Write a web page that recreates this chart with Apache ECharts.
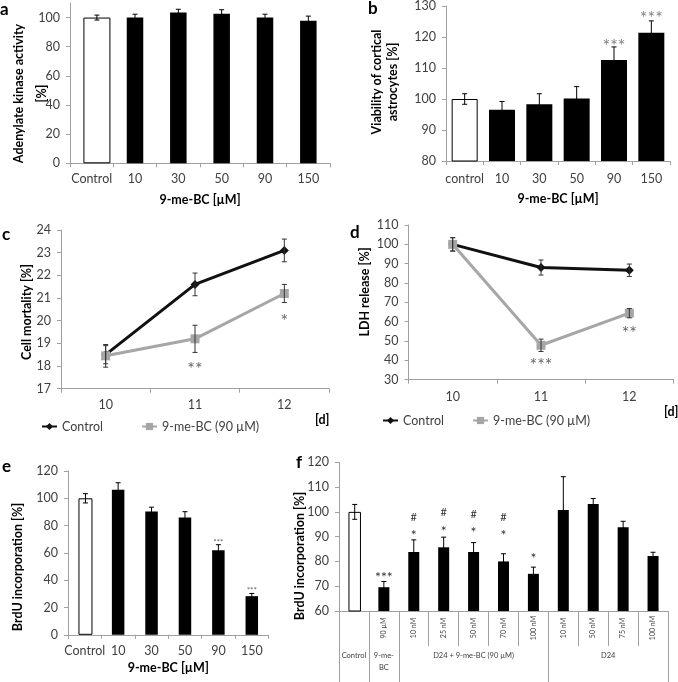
<!DOCTYPE html>
<html>
<head>
<meta charset="utf-8">
<script src="https://cdn.jsdelivr.net/npm/echarts@6/dist/echarts.min.js"></script>
<style>
    html, body { margin: 0; padding: 0; background: #fff; }
    #main { width: 678px; height: 682px; }
</style>
</head>
<body>
<div id="main"></div>
<script>
// ---- data ----
var doseCats = ['Control', '10', '30', '50', '90', '150'];
var doseCatsLower = ['control', '10', '30', '50', '90', '150'];

// a: adenylate kinase activity
var akMean = [100, 100, 103.4, 102.7, 100, 97.8];
var akErr = [1.7, 2.3, 2.3, 2.7, 2.3, 3.2];

// b: viability of cortical astrocytes
var viabMean = [100, 96.5, 98.3, 100.2, 112.6, 121.4];
var viabErr = [1.7, 2.7, 3.4, 3.8, 4.2, 3.8];
var viabSig = ['', '', '', '', '***', '***'];
var viabSigAt = [null, null, null, null, 118.8, 127.8];

// c: cell mortality
var days = ['10', '11', '12'];
var mortCtrl = [18.5, 21.6, 23.1];
var mortCtrlErr = [0.4, 0.5, 0.5];
var mortBC = [18.45, 19.2, 21.2];
var mortBCErr = [0.5, 0.6, 0.4];
var mortSig = ['', '**', '*'];
var mortSigAt = [null, 18.1, 20.2];

// d: LDH release
var ldhCtrl = [100, 88, 86.6];
var ldhCtrlErr = [3.5, 3.9, 3.2];
var ldhBC = [100, 47.8, 64.4];
var ldhBCErr = [3.4, 3.2, 2.4];
var ldhSig = ['', '***', '**'];
var ldhSigAt = [null, 40.2, 56.7];

// e: BrdU incorporation vs dose
var brduMean = [100, 106.3, 90.3, 85.9, 61.9, 28.3];
var brduErr = [3.4, 5.1, 3.2, 4.3, 4.1, 2];
var brduSig = ['', '', '', '', '***', '***'];
var brduSigAt = [null, null, null, null, 69.5, 34.4];

// f: BrdU incorporation, D24 combinations
var d24Cats = ['', '90 µM', '10 nM', '25 nM', '50 nM', '70 nM', '100 nM', '10 nM', '50 nM', '75 nM', '100 nM'];
var d24Mean = [100, 69.6, 83.8, 85.7, 83.8, 80, 75, 100.8, 103.2, 93.8, 82.2];
var d24Err = [3, 2.3, 4.9, 4.1, 3.8, 3.1, 2.7, 13.4, 2.2, 2.4, 1.5];
var d24Sig = ['', '***', '#\n*', '#\n*', '#\n*', '#\n*', '*', '', '', '', ''];
var d24SigAt = [null, 75.2, 92, 93.8, 93.3, 92, 82.6, null, null, null, null];
var d24Groups = ['Control', '9-me-\nBC', 'D24 + 9-me-BC (90 µM)', 'D24'];
var d24GroupEdges = [0, 1, 2, 7, 11];

var seriesNames = ['Control', '9-me-BC (90 µM)'];
var yTitles = ['Adenylate kinase activity\n[%]', 'Viability of cortical\nastrocytes [%]',
    'Cell mortality [%]', 'LDH release [%]', 'BrdU incorporation [%]', 'BrdU incorporation [%]'];

// ---- styling ----
var FONT = 'Lato';
var AXIS_GREY = '#a0a0a0';
var TEXT_GREY = '#404040';
var LINE_GREY = '#a6a6a6';

function catAxis(gi, data, margin, name, nameGap) {
    return {
        type: 'category',
        gridIndex: gi,
        data: data,
        name: name || '',
        nameLocation: 'middle',
        nameGap: nameGap || 0,
        nameMoveOverlap: false,
        nameTextStyle: { color: '#000', fontFamily: FONT, fontWeight: 'bold', fontSize: 12.5 },
        axisLine: { show: true, lineStyle: { color: AXIS_GREY, width: 1 } },
        axisTick: { show: true, length: 4, lineStyle: { color: AXIS_GREY } },
        axisLabel: { color: TEXT_GREY, fontFamily: FONT, fontSize: 12.5, margin: margin, interval: 0 },
        splitLine: { show: false }
    };
}

function valAxis(gi, min, max, step) {
    return {
        type: 'value',
        gridIndex: gi,
        min: min,
        max: max,
        interval: step,
        axisLine: { show: true, lineStyle: { color: AXIS_GREY, width: 1 } },
        axisTick: { show: true, length: 4, lineStyle: { color: AXIS_GREY } },
        axisLabel: { color: TEXT_GREY, fontFamily: FONT, fontSize: 12.5, margin: 10, showMaxLabel: max % step === 0 },
        splitLine: { show: false }
    };
}

// rotated y-axis title, centred on (x, y)
function yTitle(text, x, y, lineHeight) {
    return {
        type: 'text', x: x, y: y, rotation: Math.PI / 2, silent: true,
        style: {
            text: text, align: 'center', verticalAlign: 'middle',
            font: 'bold 12.5px ' + FONT, fill: '#000', lineHeight: lineHeight || 15
        }
    };
}

// control bar (white, wider) + treated bars (black); barGap -100% lets them share the slot
function barPair(gi, means, wCtrl, wTreat) {
    return [{
        type: 'bar', xAxisIndex: gi, yAxisIndex: gi, silent: true,
        data: means.map(function(v, i) { return i === 0 ? v : '-'; }),
        barWidth: wCtrl, barGap: '-100%',
        itemStyle: { color: '#fff', borderColor: '#000', borderWidth: 1 }
    }, {
        type: 'bar', xAxisIndex: gi, yAxisIndex: gi, silent: true,
        data: means.map(function(v, i) { return i === 0 ? '-' : v; }),
        barWidth: wTreat, barGap: '-100%',
        itemStyle: { color: '#000' }
    }];
}

function errSeries(gi, means, errs, from, to, shift, color) {
    var data = [];
    for (var i = from; i < to; i++) {
        data.push([i, means[i], errs[i]]);
    }
    return {
        type: 'custom', xAxisIndex: gi, yAxisIndex: gi, silent: true, z: 4,
        data: data,
        encode: { x: 0, y: 1 },
        renderItem: function(params, api) {
            var idx = api.value(0), m = api.value(1), e = api.value(2);
            var hi = api.coord([idx, m + e]);
            var lo = api.coord([idx, m - e]);
            var x = hi[0] + shift;
            var st = { stroke: color, lineWidth: 1 };
            return {
                type: 'group',
                children: [
                    { type: 'line', shape: { x1: x, y1: hi[1], x2: x, y2: lo[1] }, style: st },
                    { type: 'line', shape: { x1: x - 2.5, y1: hi[1], x2: x + 2.5, y2: hi[1] }, style: st },
                    { type: 'line', shape: { x1: x - 2.5, y1: lo[1], x2: x + 2.5, y2: lo[1] }, style: st }
                ]
            };
        }
    };
}

// significance marks (* / #), stacked upwards line by line
function sigSeries(gi, texts, levels, color, size, lineGap, hashSize) {
    var data = [];
    levels.forEach(function(v, i) {
        if (v != null) data.push([i, v]);
    });
    return {
        type: 'custom', xAxisIndex: gi, yAxisIndex: gi, silent: true, z: 5,
        data: data,
        encode: { x: 0, y: 1 },
        renderItem: function(params, api) {
            var idx = api.value(0);
            var p = api.coord([idx, api.value(1)]);
            var lines = texts[idx].split('\n').reverse();
            return {
                type: 'group',
                children: lines.map(function(t, j) {
                    var star = t.charAt(0) === '*';
                    var fs = star ? size : (hashSize || size);
                    return {
                        type: 'text',
                        x: p[0],
                        y: p[1] - j * lineGap + (star ? fs * 0.28 : 0),
                        style: {
                            text: t, align: 'center', verticalAlign: 'middle',
                            fill: color, font: fs + 'px ' + FONT
                        }
                    };
                })
            };
        }
    };
}

function lineSeries(gi, name, data, black) {
    var c = black ? '#111' : LINE_GREY;
    return {
        type: 'line', name: name, xAxisIndex: gi, yAxisIndex: gi, data: data,
        symbol: black ? 'diamond' : 'rect',
        symbolSize: 9,
        lineStyle: { color: c, width: 3 },
        itemStyle: { color: c },
        z: 2
    };
}

function panelTitle(text, left, top, size) {
    return {
        text: text, left: left, top: top, padding: 0,
        textStyle: { fontFamily: FONT, fontWeight: 'bold', fontSize: size, color: '#000' }
    };
}

function legendAt(left, top, gap) {
    return {
        left: left, top: top, padding: 0, selectedMode: false,
        data: seriesNames,
        itemWidth: 15, itemHeight: 9, itemGap: gap,
        textStyle: { fontFamily: FONT, fontSize: 12.5, color: TEXT_GREY }
    };
}

var groupCenters = [];
for (var g = 0; g < d24GroupEdges.length - 1; g++) {
    groupCenters.push((d24GroupEdges[g] + d24GroupEdges[g + 1]) / 2);
}

function grid(left, top, width, height) {
    return { left: left, top: top, width: width, height: height, outerBoundsMode: 'none', containLabel: false };
}

var xAxes = [
    catAxis(0, doseCats, 9, '9-me-BC [µM]', 30),
    catAxis(1, doseCatsLower, 11, '9-me-BC [µM]', 31),
    catAxis(2, days, 10),
    catAxis(3, days, 11),
    catAxis(4, doseCats, 10, '9-me-BC [µM]', 27),
    {
        type: 'category', gridIndex: 5, data: d24Cats,
        axisLine: { show: true, lineStyle: { color: AXIS_GREY, width: 1 } },
        axisTick: { show: true, length: 35, lineStyle: { color: AXIS_GREY } },
        axisLabel: {
            color: TEXT_GREY, fontFamily: FONT, fontSize: 7, interval: 0,
            rotate: 90, align: 'center', verticalAlign: 'middle', margin: 17
        },
        splitLine: { show: false }
    },
    {
        type: 'value', gridIndex: 5, min: 0, max: 11, position: 'bottom', offset: 35,
        axisLine: { show: false },
        splitLine: { show: false },
        axisTick: { show: true, length: 36, customValues: d24GroupEdges, lineStyle: { color: AXIS_GREY } },
        axisLabel: {
            show: true, customValues: groupCenters, margin: 4,
            color: TEXT_GREY, fontFamily: FONT, fontSize: 7.5, lineHeight: 11.5,
            formatter: function(v) {
                var k = groupCenters.indexOf(v);
                return k >= 0 ? d24Groups[k] : '';
            }
        }
    }
];

var yAxes = [
    valAxis(0, 0, 110, 20),
    valAxis(1, 80, 130, 10),
    valAxis(2, 17, 24, 1),
    valAxis(3, 30, 110, 10),
    valAxis(4, 0, 120, 20),
    valAxis(5, 60, 120, 10)
];

var series = []
    // a
    .concat(barPair(0, akMean, 27, 16.5))
    .concat([errSeries(0, akMean, akErr, 0, 1, (27 - 16.5) / 2, '#000'),
             errSeries(0, akMean, akErr, 1, akMean.length, 0, '#000')])
    // b
    .concat(barPair(1, viabMean, 26, 26))
    .concat([errSeries(1, viabMean, viabErr, 0, viabMean.length, 0, '#000'),
             sigSeries(1, viabSig, viabSigAt, '#808080', 18, 14)])
    // c
    .concat([lineSeries(2, seriesNames[0], mortCtrl, true),
             lineSeries(2, seriesNames[1], mortBC, false),
             errSeries(2, mortCtrl, mortCtrlErr, 0, 3, 0, '#333'),
             errSeries(2, mortBC, mortBCErr, 0, 3, 0, '#333'),
             sigSeries(2, mortSig, mortSigAt, '#666', 18, 14)])
    // d
    .concat([lineSeries(3, seriesNames[0], ldhCtrl, true),
             lineSeries(3, seriesNames[1], ldhBC, false),
             errSeries(3, ldhCtrl, ldhCtrlErr, 0, 3, 0, '#333'),
             errSeries(3, ldhBC, ldhBCErr, 0, 3, 0, '#333'),
             sigSeries(3, ldhSig, ldhSigAt, '#666', 18, 14)])
    // e
    .concat(barPair(4, brduMean, 14, 12.5))
    .concat([errSeries(4, brduMean, brduErr, 0, 1, (14 - 12.5) / 2, '#000'),
             errSeries(4, brduMean, brduErr, 1, brduMean.length, 0, '#000'),
             sigSeries(4, brduSig, brduSigAt, '#666', 8, 7)])
    // f
    .concat(barPair(5, d24Mean, 12.5, 11))
    .concat([errSeries(5, d24Mean, d24Err, 0, 1, (12.5 - 11) / 2, '#000'),
             errSeries(5, d24Mean, d24Err, 1, d24Mean.length, 0, '#000'),
             sigSeries(5, d24Sig, d24SigAt, '#333', 14, 14.5, 11)]);

var myChart = echarts.init(document.getElementById('main'), null, { renderer: 'canvas' });
myChart.setOption({
    animation: false,
    backgroundColor: '#fff',
    title: [
        panelTitle('a', 0, 1, 17),
        panelTitle('b', 368, 0, 17),
        panelTitle('c', 2, 226, 17),
        panelTitle('d', 350, 224, 17),
        panelTitle('e', 2, 458, 17),
        panelTitle('f', 296, 454, 17),
        panelTitle('[d]', 315, 413, 12.5),
        panelTitle('[d]', 664, 405, 12.5)
    ],
    graphic: [
        yTitle(yTitles[0], 30.5, 93.5, 23),
        yTitle(yTitles[1], 385, 82, 16.5),
        yTitle(yTitles[2], 26.7, 312),
        yTitle(yTitles[3], 365, 292),
        yTitle(yTitles[4], 18, 567),
        yTitle(yTitles[5], 300, 556)
    ],
    legend: [legendAt(41, 420, 38), legendAt(382, 414, 28)],
    grid: [
        grid(70, 3, 260, 160.3),
        grid(446, 6, 224, 155),
        grid(61, 230, 268, 158.7),
        grid(408.5, 225, 265, 154.7),
        grid(68, 471, 200.5, 163.8),
        grid(339, 462.3, 329, 148.7)
    ],
    xAxis: xAxes,
    yAxis: yAxes,
    series: series
});
</script>
</body>
</html>
